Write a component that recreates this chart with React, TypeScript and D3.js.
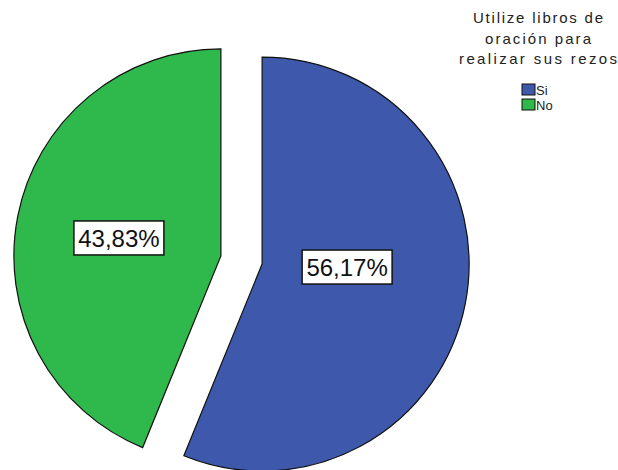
import React from "react";
import * as d3 from "d3";

const categories = ["Si", "No"];
const values = [56.17, 43.83];
const valueLabels = ["56,17%", "43,83%"];
const titleLines = ["Utilize libros de", "oración para", "realizar sus rezos"];

const colors = ["#3e58ac", "#2fb84b"];
const W = 618;
const H = 470;
const CX = 241.5;
const CY = 260;
const R = 207;
const EXPLODE = 21;
// label offsets relative to exploded slice centre (layout only)
const labelOffsets: [number, number][] = [
  [85, 3],
  [-102, -18],
];
const titleWidths = [130, 106, 158];

export default function App() {
  const pie = d3
    .pie<number>()
    .sort(null)
    .startAngle(0)
    .endAngle(2 * Math.PI)
    .value((d) => d);
  const arcs = pie(values);
  const arc = d3.arc<d3.PieArcDatum<number>>().innerRadius(0).outerRadius(R);

  return (
    <svg
      width={W}
      height={H}
      style={{ position: "absolute", left: 0, top: 0, background: "#fff" }}
      fontFamily="Liberation Sans, Arial, sans-serif"
    >
      {arcs.map((a, i) => {
        const mid = (a.startAngle + a.endAngle) / 2;
        const cx = CX + Math.sin(mid) * EXPLODE;
        const cy = CY - Math.cos(mid) * EXPLODE;
        const [lx, ly] = labelOffsets[i];
        return (
          <g key={categories[i]} transform={`translate(${cx},${cy})`}>
            <path d={arc(a) || ""} fill={colors[i]} stroke="#111" strokeWidth={1.2} />
            <g transform={`translate(${lx},${ly})`}>
              <rect x={-45} y={-17} width={90} height={34} fill="#fff" stroke="#111" strokeWidth={1.5} />
              <text textAnchor="middle" dy="0.36em" fontSize={24} fill="#111">
                {valueLabels[i]}
              </text>
            </g>
          </g>
        );
      })}
      <g>
        {titleLines.map((t, i) => (
          <text
            key={t}
            x={538}
            y={23 + i * 20.5}
            textAnchor="middle"
            fontSize={15}
            fill="#222"
            textLength={titleWidths[i]}
            lengthAdjust="spacing"
          >
            {t}
          </text>
        ))}
        {categories.map((c, i) => (
          <g key={c} transform={`translate(522,${84 + i * 15})`}>
            <rect width={13} height={11} fill={colors[i]} stroke="#111" strokeWidth={1} />
            <text x={14} y={11} fontSize={13} fill="#222">
              {c}
            </text>
          </g>
        ))}
      </g>
    </svg>
  );
}
